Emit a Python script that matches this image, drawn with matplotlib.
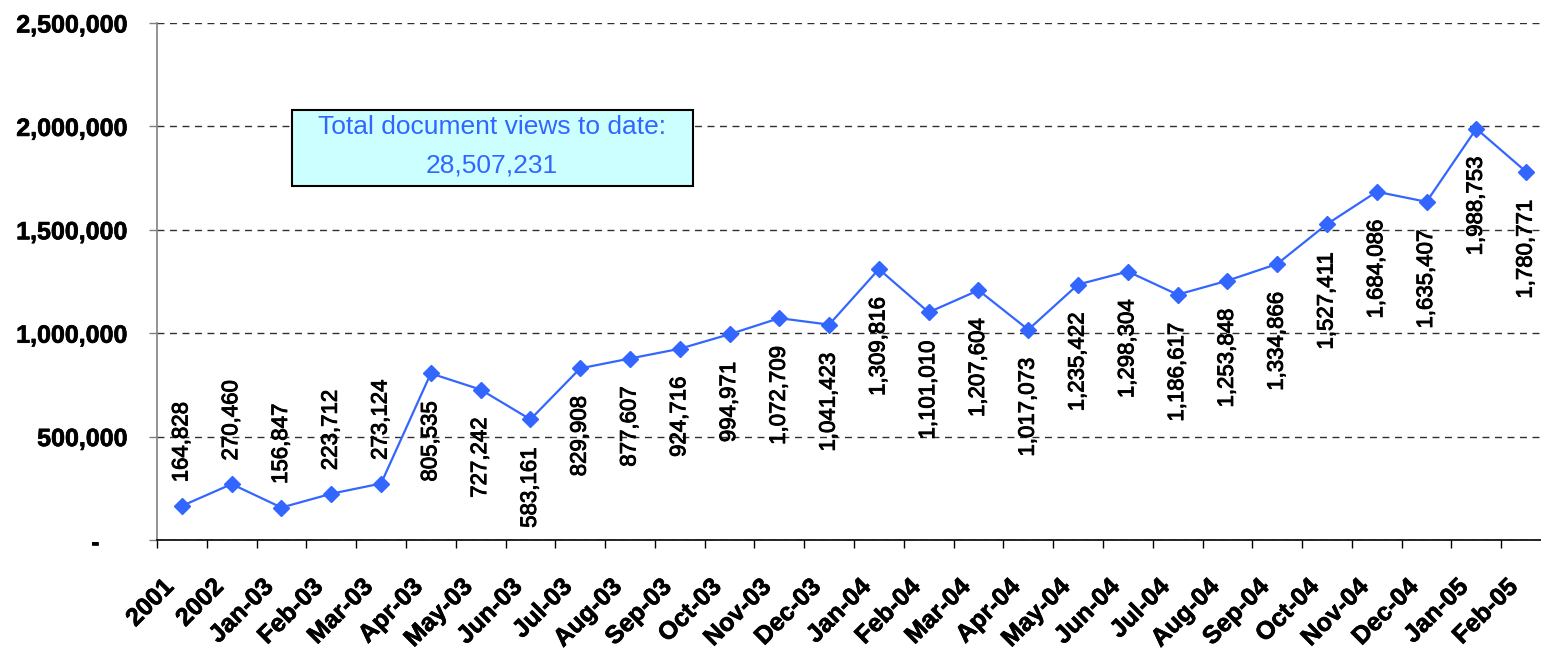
import matplotlib
matplotlib.use("Agg")
import matplotlib.pyplot as plt
import matplotlib.patheffects as pe
from matplotlib.patches import Rectangle
from matplotlib.ticker import FuncFormatter
from matplotlib.transforms import ScaledTranslation

plt.rcParams['font.family'] = ['Liberation Sans', 'DejaVu Sans']

# Monthly document views
months = ["2001", "2002", "Jan-03", "Feb-03", "Mar-03", "Apr-03", "May-03",
          "Jun-03", "Jul-03", "Aug-03", "Sep-03", "Oct-03", "Nov-03", "Dec-03",
          "Jan-04", "Feb-04", "Mar-04", "Apr-04", "May-04", "Jun-04", "Jul-04",
          "Aug-04", "Sep-04", "Oct-04", "Nov-04", "Dec-04", "Jan-05", "Feb-05"]
views = [164828, 270460, 156847, 223712, 273124, 805535, 727242,
         583161, 829908, 877607, 924716, 994971, 1072709, 1041423,
         1309816, 1101010, 1207604, 1017073, 1235422, 1298304, 1186617,
         1253848, 1334866, 1527411, 1684086, 1635407, 1988753, 1780771]
yticks = [0, 500000, 1000000, 1500000, 2000000, 2500000]
total_views = 28507231

BLUE = "#3366FF"
W, H = 1541, 652

# slight outline to mimic the heavier Excel text rendering
heavy = [pe.withStroke(linewidth=0.7, foreground="black")]
heavy_tick = [pe.withStroke(linewidth=0.5, foreground="black")]

fig = plt.figure(figsize=(W / 100, H / 100), dpi=100)
# plot area runs a little past the right edge, like the original crop
ax = fig.add_axes([157 / W, 112 / H, 1394 / W, 517 / H])

x = list(range(len(months)))
ax.plot(x, views, color=BLUE, lw=1.6, marker="D", ms=8, zorder=3)
ax.set_xlim(-0.5, len(months) - 0.5)
ax.set_ylim(yticks[0], yticks[-1])

# y axis
ax.set_yticks(yticks)
ax.yaxis.set_major_formatter(FuncFormatter(
    lambda v, p: "-    " if v == 0 else f"{v:,.0f}"))
ax.tick_params(axis="y", direction="out", length=5.8, width=1,
               color="#808080", pad=15.5, labelsize=18)
for lbl in ax.get_yticklabels():
    lbl.set_fontweight("bold")
    lbl.set_path_effects(heavy_tick)
ax.yaxis.grid(True, linestyle=(0, (5, 4)), color="#303030", lw=1)
ax.set_axisbelow(True)

# x axis: ticks on category boundaries, labels at centres
ax.set_xticks([i - 0.5 for i in range(len(months) + 1)])
ax.set_xticklabels([])
ax.set_xticks(x, minor=True)
ax.set_xticklabels(months, minor=True, rotation=45, ha="right", va="center",
                   rotation_mode="anchor", fontsize=18, fontweight="bold")
ax.tick_params(axis="x", which="major", direction="out", length=5.8,
               width=1, color="black")
ax.tick_params(axis="x", which="minor", length=0, pad=31)
shift = ScaledTranslation(-12 / 100, 0, fig.dpi_scale_trans)
for lbl in ax.get_xticklabels(minor=True):
    lbl.set_transform(lbl.get_transform() + shift)
    lbl.set_path_effects(heavy_tick)

for side in ("top", "right"):
    ax.spines[side].set_visible(False)
ax.spines["left"].set_color("#808080")
ax.spines["left"].set_linewidth(1.2)
ax.spines["bottom"].set_color("black")
ax.spines["bottom"].set_linewidth(1.2)

# data labels: small values above the marker, the rest below
for xi, v in zip(x, views):
    if v < 500000:
        off, va = 17, "bottom"
    else:
        off, va = -20, "top"
    ax.annotate(f"{v:,}", (xi, v), xytext=(0, off), textcoords="offset points",
                rotation=90, ha="center", va=va, fontsize=16, zorder=4,
                path_effects=heavy)

# total views box
ax.add_patch(Rectangle((0.0968, 0.6847), 0.2877, 0.147,
                       transform=ax.transAxes, facecolor="#CCFFFF",
                       edgecolor="black", lw=1.5, zorder=5))
ax.text(0.2403, 0.7988, "Total document views to date:", transform=ax.transAxes,
        ha="center", va="center", fontsize=19, color=BLUE, zorder=6)
ax.text(0.2403, 0.7253, f"{total_views:,}", transform=ax.transAxes,
        ha="center", va="center", fontsize=19, color=BLUE, zorder=6)

fig.savefig("out.png", dpi=100)
